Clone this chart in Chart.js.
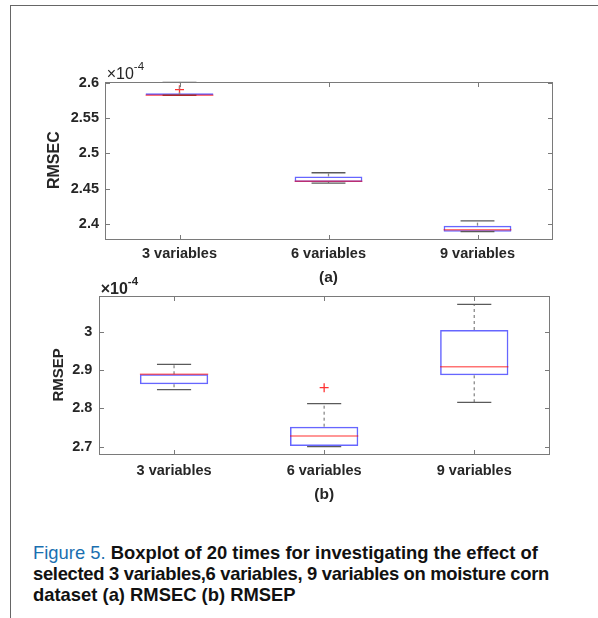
<!DOCTYPE html>
<html>
<head>
<meta charset="utf-8">
<script src="https://cdn.jsdelivr.net/npm/chart.js@4.4.1/dist/chart.umd.min.js"></script>
<style>
  html, body { margin: 0; padding: 0; background: #fff; }
  body { width: 598px; height: 618px; position: relative; overflow: hidden;
         font-family: 'Liberation Sans', Arial, sans-serif; }
  .rule-top { position: absolute; left: 10px; top: 5px; width: 588px; height: 1px; background: #666; }
  .rule-left { position: absolute; left: 10px; top: 5px; width: 1px; height: 613px; background: #666; }
  canvas { position: absolute; left: 20px; }
  #chartA { top: 50px; }
  #chartB { top: 270px; }
  .caption { position: absolute; left: 33px; top: 542px; font-size: 18.4px; line-height: 21px;
             font-weight: bold; color: #111; white-space: nowrap; }
  .caption .fig { color: #1a6fb0; font-weight: normal; }
  .caption .tight { letter-spacing: -0.3px; }
</style>
</head>
<body>
<div class="rule-top"></div>
<div class="rule-left"></div>
<canvas id="chartA" width="560" height="245"></canvas>
<canvas id="chartB" width="560" height="240"></canvas>
<div class="caption"><span class="fig">Figure 5.</span> Boxplot of 20 times for investigating the effect of<br><span class="tight">selected 3 variables,6 variables, 9 variables on moisture corn</span><br>dataset (a) RMSEC (b) RMSEP</div>

<script>
// Values are in units of 1e-4
const categories = ['3 variables', '6 variables', '9 variables'];

// (a) RMSEC over 20 runs
const rmsecLow      = [2.5826, 2.4580, 2.3890];
const rmsecQ1       = [2.5826, 2.4594, 2.3890];
const rmsecMedian   = [2.5826, 2.4605, 2.3918];
const rmsecQ3       = [2.5826, 2.4673, 2.3975];
const rmsecHigh     = [2.6018, 2.4726, 2.4042];
const rmsecOutliers = [[2.5905], [], []];
const rmsecTicks    = [2.4, 2.45, 2.5, 2.55, 2.6];
const rmsecRange    = [2.379, 2.6018];

// (b) RMSEP over 20 runs
const rmsepLow      = [2.8487, 2.7000, 2.8158];
const rmsepQ1       = [2.8628, 2.7018, 2.8862];
const rmsepMedian   = [2.8889, 2.7279, 2.9087];
const rmsepQ3       = [2.8889, 2.7522, 3.0044];
const rmsepHigh     = [2.9149, 2.8122, 3.0715];
const rmsepOutliers = [[], [2.8539], []];
const rmsepTicks    = [2.7, 2.8, 2.9, 3];
const rmsepRange    = [2.6817, 3.0931];

const FONT = "'Liberation Sans', Arial, sans-serif";
const INK = '#262626';

function seg(ctx, x1, y1, x2, y2) {
  ctx.beginPath(); ctx.moveTo(x1, y1); ctx.lineTo(x2, y2); ctx.stroke();
}

// Whiskers, caps, medians, axes frame with inward ticks and the exponent label
const boxWhiskers = {
  id: 'boxWhiskers',
  afterDatasetsDraw(chart, args, o) {
    const { ctx, chartArea: a } = chart;
    const xs = chart.scales.x, ys = chart.scales.y;
    const boxes = chart.getDatasetMeta(0).data;
    ctx.save();
    ctx.beginPath(); ctx.rect(a.left, a.top, a.right - a.left, a.bottom - a.top); ctx.clip();
    boxes.forEach((bar, i) => {
      const cx = xs.getPixelForValue(i);
      const half = bar.width / 2, capHalf = half / 2;
      const pq1 = ys.getPixelForValue(o.q1[i]), pq3 = ys.getPixelForValue(o.q3[i]);
      const plo = ys.getPixelForValue(o.low[i]), phi = ys.getPixelForValue(o.high[i]);
      ctx.lineWidth = 1.3;
      ctx.strokeStyle = '#8a8a8a';
      ctx.setLineDash([3, 3]);
      if (phi < pq3) seg(ctx, cx, pq3, cx, phi);
      if (plo > pq1) seg(ctx, cx, pq1, cx, plo);
      ctx.setLineDash([]);
      ctx.strokeStyle = '#5a5a5a';
      seg(ctx, cx - capHalf, phi, cx + capHalf, phi);
      seg(ctx, cx - capHalf, plo, cx + capHalf, plo);
      const pm = ys.getPixelForValue(o.median[i]);
      ctx.strokeStyle = 'rgba(255,0,0,0.55)';
      ctx.lineWidth = 1.6;
      seg(ctx, cx - half, pm, cx + half, pm);
    });
    ctx.restore();
  },
  afterDraw(chart, args, o) {
    const { ctx, chartArea: a } = chart;
    const xs = chart.scales.x, ys = chart.scales.y;
    const L = Math.round(a.left) + 0.5, R = Math.round(a.right) + 0.5;
    const T = Math.round(a.top) + 0.5, B = Math.round(a.bottom) + 0.5;
    const tl = 4.5;
    ctx.save();
    ctx.strokeStyle = '#7a7a7a';
    ctx.lineWidth = 1;
    ctx.strokeRect(L, T, R - L, B - T);
    ys.ticks.forEach(t => {
      const py = Math.round(ys.getPixelForValue(t.value)) + 0.5;
      seg(ctx, L, py, L + tl, py);
      seg(ctx, R, py, R - tl, py);
    });
    categories.forEach((c, i) => {
      const px = Math.round(xs.getPixelForValue(i)) + 0.5;
      seg(ctx, px, T, px, T + tl);
      seg(ctx, px, B, px, B - tl);
    });
    // exponent label
    ctx.fillStyle = INK;
    ctx.textBaseline = 'middle';
    ctx.textAlign = 'left';
    const w = o.expBold ? 'bold ' : '';
    ctx.font = w + '16px ' + FONT;
    const bx = a.left + 1.7, by = a.top - o.expOffset;
    ctx.fillText('\u00d710', bx, by);
    const wd = ctx.measureText('\u00d710').width;
    ctx.font = w + '11.5px ' + FONT;
    ctx.fillText('-4', bx + wd, by - 8.5);
    ctx.restore();
  }
};

function makeChart(id, c) {
  const outlierPts = [];
  c.outliers.forEach((list, i) => list.forEach(v => outlierPts.push({ x: categories[i], y: v })));
  return new Chart(document.getElementById(id), {
    type: 'bar',
    data: {
      labels: categories,
      datasets: [
        {
          type: 'bar',
          data: categories.map((_, i) => [c.q1[i], c.q3[i]]),
          backgroundColor: 'rgba(0,0,0,0)',
          borderColor: 'rgba(0,0,255,0.6)',
          borderWidth: 1.5,
          borderSkipped: false,
          minBarLength: 2,
          barPercentage: 0.455,
          categoryPercentage: 1
        },
        {
          type: 'line',
          data: outlierPts,
          showLine: false,
          pointStyle: 'cross',
          pointRadius: 4.5,
          pointBorderColor: 'rgba(255,0,0,0.8)',
          pointBorderWidth: 1.3,
          pointBackgroundColor: 'rgba(255,0,0,0.8)'
        }
      ]
    },
    options: {
      responsive: false,
      animation: false,
      events: [],
      layout: { padding: { top: c.padTop, right: c.padRight, left: 0, bottom: 0 } },
      plugins: {
        legend: { display: false },
        tooltip: { enabled: false },
        boxWhiskers: { q1: c.q1, q3: c.q3, low: c.low, high: c.high, median: c.median,
                       expBold: c.expBold, expOffset: c.expOffset }
      },
      scales: {
        x: {
          type: 'category',
          offset: true,
          grid: { display: false, drawTicks: false },
          border: { display: false },
          ticks: { color: INK, font: { family: FONT, size: 14.5, weight: 'bold' },
                   padding: c.xPad, maxRotation: 0, autoSkip: false },
          title: { display: true, text: c.sub, color: INK,
                   font: { family: FONT, size: 15.5, weight: 'bold' },
                   padding: { top: 0, bottom: c.subPad } },
          afterFit: s => { s.height = c.xHeight; }
        },
        y: {
          type: 'linear',
          min: c.range[0],
          max: c.range[1],
          grid: { display: false, drawTicks: false },
          border: { display: false },
          afterBuildTicks: s => { s.ticks = c.ticks.map(v => ({ value: v })); },
          ticks: { color: INK, font: { family: FONT, size: 14.5, weight: 'bold' },
                   padding: c.yPad, callback: v => String(v) },
          title: { display: true, text: c.yTitle, color: INK,
                   font: { family: FONT, size: c.yTitleSize, weight: 'bold' },
                   padding: { top: c.yTitlePad, bottom: 0 } },
          afterFit: s => { s.width = c.yWidth; }
        }
      }
    },
    plugins: [boxWhiskers]
  });
}

makeChart('chartA', {
  q1: rmsecQ1, q3: rmsecQ3, low: rmsecLow, high: rmsecHigh, median: rmsecMedian,
  outliers: rmsecOutliers, ticks: rmsecTicks, range: rmsecRange,
  sub: '(a)', yTitle: 'RMSEC', yTitleSize: 16,
  padTop: 31.7, padRight: 28, yWidth: 85, xHeight: 56.3,
  xPad: 6.3, subPad: 7.6, yPad: 6, yTitlePad: 24.9,
  expBold: false, expOffset: 6.7
});

makeChart('chartB', {
  q1: rmsepQ1, q3: rmsepQ3, low: rmsepLow, high: rmsepHigh, median: rmsepMedian,
  outliers: rmsepOutliers, ticks: rmsepTicks, range: rmsepRange,
  sub: '(b)', yTitle: 'RMSEP', yTitleSize: 15,
  padTop: 26, padRight: 30.7, yWidth: 79, xHeight: 56.3,
  xPad: 8.6, subPad: 5.7, yPad: 6.7, yTitlePad: 30,
  expBold: true, expOffset: 6
});
</script>
</body>
</html>
